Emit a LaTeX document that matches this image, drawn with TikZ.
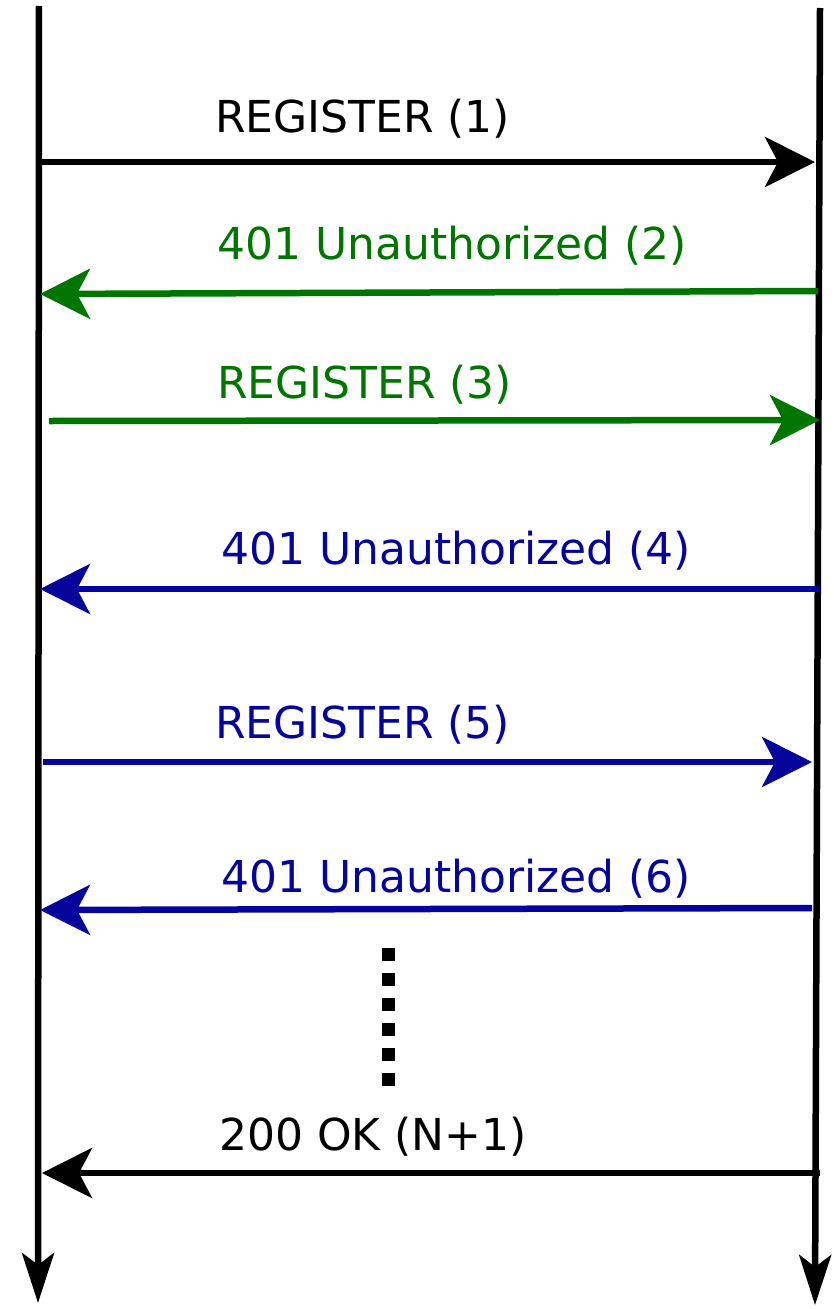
\documentclass[tikz,border=0pt]{standalone}
\usepackage{fontspec}
\setmainfont{DejaVu Sans}
\usetikzlibrary{arrows.meta}
\definecolor{msggreen}{RGB}{0,118,0}
\definecolor{msgblue}{RGB}{5,5,155}

\begin{document}
\begin{tikzpicture}[x=1pt,y=-1pt,
    lifeline/.style={line width=6.5pt,-{Stealth[length=50pt,width=32pt,inset=12pt]}},
    msg/.style={line width=6.5pt,-{Stealth[length=50pt,width=50pt,inset=13pt]}},
    lbl/.style={anchor=base west,inner sep=0pt,font=\fontsize{44}{53}\selectfont}]
  \useasboundingbox (0,0) rectangle (833,1309);

  % lifelines
  \coordinate (ua top) at (39,6);
  \coordinate (ua bot) at (38,1303);
  \coordinate (reg top) at (820,8);
  \coordinate (reg bot) at (815,1305);
  \draw[lifeline] (ua top) -- (ua bot);
  \draw[lifeline] (reg top) -- (reg bot);

  % message ends
  \coordinate (m1 a) at (39,162);  \coordinate (m1 b) at (815,162);
  \coordinate (m2 a) at (818,291); \coordinate (m2 b) at (40,294);
  \coordinate (m3 a) at (49,421);  \coordinate (m3 b) at (820,420);
  \coordinate (m4 a) at (820,589); \coordinate (m4 b) at (40,589);
  \coordinate (m5 a) at (43,762);  \coordinate (m5 b) at (812,762);
  \coordinate (m6 a) at (812,908); \coordinate (m6 b) at (40,910);
  \coordinate (m7 a) at (820,1173); \coordinate (m7 b) at (42,1173);

  % messages
  \draw[msg] (m1 a) -- (m1 b);
  \node[lbl] (reg1) at (215,132) {REGISTER (1)};
  \draw[msg,msggreen] (m2 a) -- (m2 b);
  \node[lbl,msggreen] (unauth2) at (217,259) {401 Unauthorized (2)};
  \draw[msg,msggreen] (m3 a) -- (m3 b);
  \node[lbl,msggreen] (reg3) at (217,398) {REGISTER (3)};
  \draw[msg,msgblue] (m4 a) -- (m4 b);
  \node[lbl,msgblue] (unauth4) at (221,564) {401 Unauthorized (4)};
  \draw[msg,msgblue] (m5 a) -- (m5 b);
  \node[lbl,msgblue] (reg5) at (215,738) {REGISTER (5)};
  \draw[msg,msgblue] (m6 a) -- (m6 b);
  \node[lbl,msgblue] (unauth6) at (221,892) {401 Unauthorized (6)};

  % more rounds
  \coordinate (dots top) at (388,948);
  \coordinate (dots bot) at (388,1086);
  \draw[line width=13pt,dash pattern=on 13pt off 12pt] (dots top) -- (dots bot);

  \draw[msg] (m7 a) -- (m7 b);
  \node[lbl] (ok) at (219,1150) {200 OK (N+1)};
\end{tikzpicture}
\end{document}
